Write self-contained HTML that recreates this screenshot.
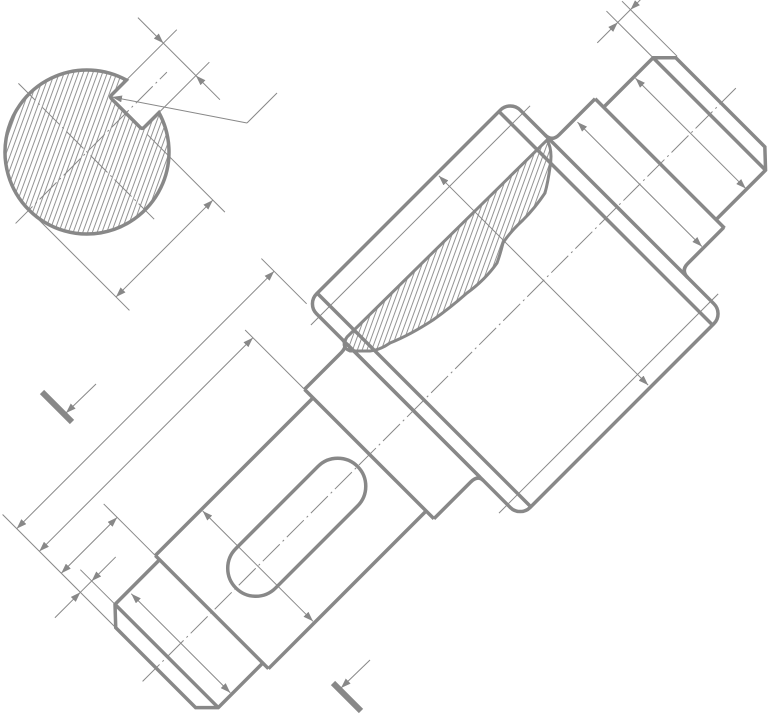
<!DOCTYPE html>
<html><head><meta charset="utf-8"><style>html,body{margin:0;padding:0;background:#fff;width:770px;height:716px;overflow:hidden}svg{display:block}</style></head>
<body>
<svg width="770" height="716" viewBox="0 0 770 716" xmlns="http://www.w3.org/2000/svg" style="overflow:hidden">
<defs>
<marker id="a" viewBox="0 0 10 7" refX="10" refY="3.5" markerWidth="10" markerHeight="7" markerUnits="userSpaceOnUse" orient="auto-start-reverse"><path d="M0,0 L10,3.5 L0,7 z" fill="#888"/></marker>
<pattern id="hs" width="4.5" height="10" patternUnits="userSpaceOnUse" patternTransform="rotate(20)"><line x1="1" y1="0" x2="1" y2="10" stroke="#888" stroke-width="0.9"/></pattern>
<pattern id="hl" width="4.5" height="10" patternUnits="userSpaceOnUse" patternTransform="rotate(65)"><line x1="1" y1="0" x2="1" y2="10" stroke="#888" stroke-width="0.9"/></pattern>
</defs>

<path d="M347,337 L547,140 Q553,150 550,167 Q548,182 545,193 Q535,208 523,220 Q510,232 503,243 Q500,255 497,263 Q485,280 467,293 Q450,308 433,320 Q410,335 390,343 Q380,350 370,351 L350,351 Q340,347 347,337 z" fill="url(#hs)" stroke="#888" stroke-width="3"/>

<g transform="translate(412,412) rotate(-45)" fill="none" stroke="#888" stroke-linejoin="miter">
  <g stroke-width="3.5">
    <polyline points="-283,-74 -346,-74 -362,-57 -362,56 -346,72 -283,72"/>
    <line x1="-346" y1="-74" x2="-346" y2="72"/>
    <line x1="-283" y1="-80" x2="-283" y2="80"/>
    <line x1="-283" y1="-80" x2="-60" y2="-80"/>
    <line x1="-283" y1="80" x2="-60" y2="80"/>
    <line x1="-60" y1="-92" x2="-60" y2="91"/>
    <path d="M-60,-92 L-8,-92 Q2,-92 2,-100"/>
    <path d="M-60,91 L-8,91 Q2,91 2,99"/>
    <rect x="2" y="-151" width="288" height="302" rx="14"/>
    <line x1="17" y1="-151" x2="17" y2="151"/>
    <line x1="274" y1="-151" x2="274" y2="151"/>
    <line x1="2" y1="-94" x2="2" y2="94"/>
    <path d="M290,-102 Q290,-92 300,-92 L351,-92"/>
    <path d="M290,100 Q290,90 300,90 L351,90"/>
    <line x1="351" y1="-92" x2="351" y2="91"/>
    <polyline points="351,-80 421,-80 437,-64 437,62 421,79 351,79"/>
    <line x1="421" y1="-80" x2="421" y2="79"/>
    <rect x="-249" y="-28" width="172" height="56" rx="28"/>
  </g>
  <g stroke-width="1">
    <line x1="-10" y1="-133" x2="300" y2="-133"/>
    <line x1="-10" y1="133" x2="300" y2="133"/>
    <line x1="-381" y1="0" x2="458" y2="0" stroke-dasharray="24 4 2 4"/>
    <line x1="394" y1="-78" x2="394" y2="78" marker-start="url(#a)" marker-end="url(#a)"/>
    <line x1="322" y1="-88" x2="322" y2="88" marker-start="url(#a)" marker-end="url(#a)"/>
    <line x1="186" y1="-148" x2="186" y2="148" marker-start="url(#a)" marker-end="url(#a)"/>
    <line x1="-218" y1="-78" x2="-218" y2="78" marker-start="url(#a)" marker-end="url(#a)"/>
    <line x1="-327" y1="-70" x2="-327" y2="70" marker-start="url(#a)" marker-end="url(#a)"/>
    <line x1="-362" y1="-217" x2="-362" y2="-58"/>
    <line x1="2" y1="-215" x2="2" y2="-151"/>
    <line x1="-60" y1="-176" x2="-60" y2="-92"/>
    <line x1="-283" y1="-153" x2="-283" y2="-80"/>
    <line x1="-346" y1="-123" x2="-346" y2="-74"/>
    <line x1="421" y1="-146" x2="421" y2="-80"/>
    <line x1="439" y1="-142" x2="439" y2="-64"/>
    <line x1="-362" y1="-197" x2="2" y2="-197" marker-start="url(#a)" marker-end="url(#a)"/>
    <line x1="-362" y1="-165" x2="-60" y2="-165" marker-start="url(#a)" marker-end="url(#a)"/>
    <line x1="-362" y1="-134" x2="-283" y2="-134" marker-start="url(#a)" marker-end="url(#a)"/>
    <line x1="-398" y1="-107" x2="-362" y2="-107" marker-end="url(#a)"/>
    <line x1="-312" y1="-107" x2="-346" y2="-107" marker-end="url(#a)"/>
    <line x1="-362" y1="-107" x2="-346" y2="-107"/>
    <line x1="392" y1="-130" x2="421" y2="-130" marker-end="url(#a)"/>
    <line x1="458" y1="-130" x2="439" y2="-130" marker-end="url(#a)"/>
    <line x1="421" y1="-130" x2="439" y2="-130"/>
  </g>
</g>

<g stroke="#888">
  <line x1="42" y1="392" x2="72" y2="422" stroke-width="6"/>
  <line x1="96" y1="384" x2="66" y2="413" stroke-width="1" marker-end="url(#a)"/>
  <line x1="333" y1="683" x2="361" y2="711" stroke-width="6"/>
  <line x1="370" y1="660" x2="341" y2="688" stroke-width="1" marker-end="url(#a)"/>
</g>

<g stroke="#888" stroke-width="1" fill="none">
  <polyline points="277,93 247,123"/>
  <line x1="247" y1="123" x2="112" y2="97" marker-end="url(#a)"/>
</g>

<g transform="translate(87,152) rotate(-45)" stroke="#888" fill="none">
  <path d="M78.7,-23 L58,-23 Q55,-23 55,-20 L55,20 Q55,23 58,23 L78.7,23 A82 82 0 1 1 78.7,-23 z" fill="url(#hl)" stroke-width="3.5"/>
  <g stroke-width="1">
    <line x1="-101" y1="0" x2="113" y2="0" stroke-dasharray="24 4 2 4"/>
    <line x1="0" y1="-97" x2="0" y2="95" stroke-dasharray="24 4 2 4"/>
    <line x1="58" y1="-23" x2="150" y2="-23"/>
    <line x1="76" y1="23" x2="150" y2="23"/>
    <line x1="131" y1="-59" x2="131" y2="-23" marker-end="url(#a)"/>
    <line x1="131" y1="57" x2="131" y2="23" marker-end="url(#a)"/>
    <line x1="131" y1="-23" x2="131" y2="23"/>
    <line x1="-82" y1="8" x2="-82" y2="142"/>
    <line x1="55" y1="30" x2="55" y2="140"/>
    <line x1="-82" y1="123" x2="55" y2="123" marker-start="url(#a)" marker-end="url(#a)"/>
  </g>
</g>
</svg>
</body></html>
